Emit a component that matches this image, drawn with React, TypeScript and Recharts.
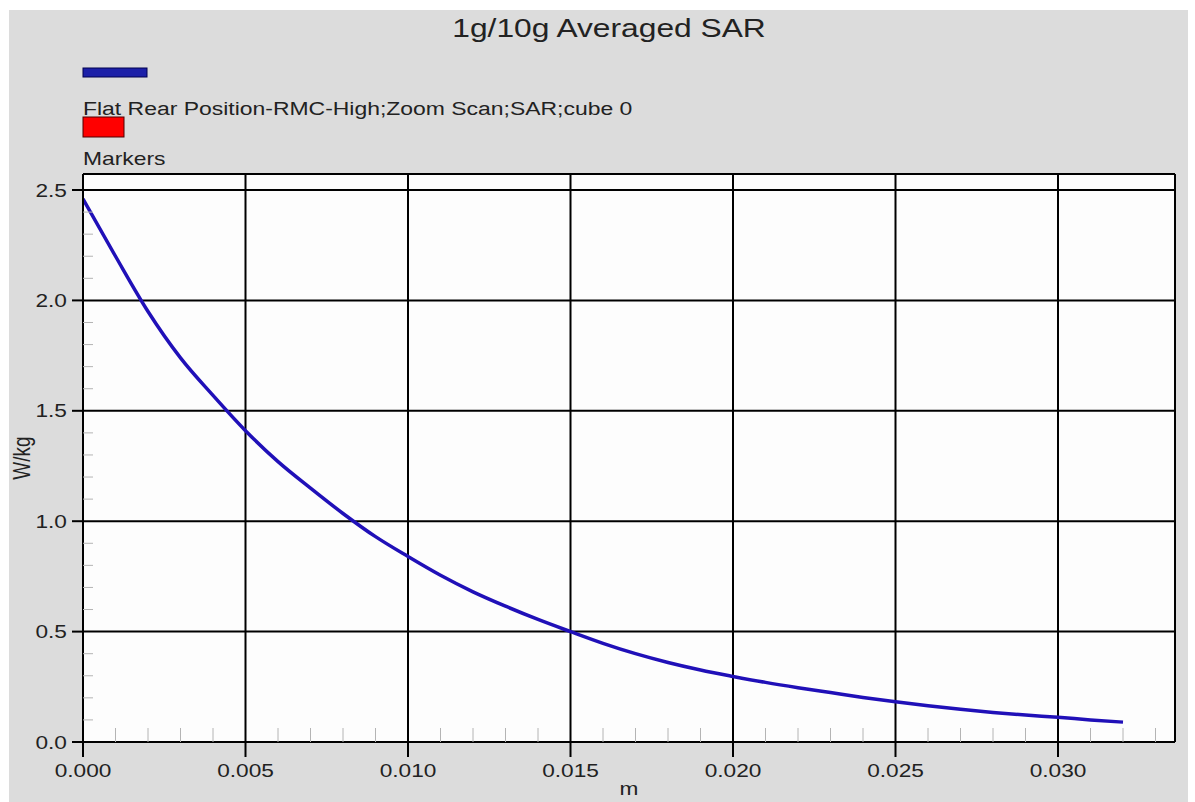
import React from 'react'
import {
  CartesianGrid,
  Line,
  LineChart,
  ReferenceLine,
  XAxis,
  YAxis
} from 'recharts'

// distance from the surface, in metres (1 mm steps)
const X_M = [
  0, 0.001, 0.002, 0.003, 0.004, 0.005, 0.006, 0.007, 0.008, 0.009, 0.01,
  0.011, 0.012, 0.013, 0.014, 0.015, 0.016, 0.017, 0.018, 0.019, 0.02, 0.021,
  0.022, 0.023, 0.024, 0.025, 0.026, 0.027, 0.028, 0.029, 0.03, 0.031, 0.032
]

// averaged SAR, W/kg
const SAR = [
  2.46, 2.2, 1.95, 1.74, 1.57, 1.41, 1.27, 1.15, 1.035, 0.93, 0.84, 0.755,
  0.68, 0.615, 0.555, 0.5, 0.447, 0.4, 0.36, 0.326, 0.297, 0.27, 0.246, 0.224,
  0.202, 0.182, 0.164, 0.148, 0.134, 0.122, 0.112, 0.1, 0.09
]

const X_MAX = 0.0336
const Y_MAX = 2.5725
const X_MAJOR = [0.005, 0.01, 0.015, 0.02, 0.025, 0.03]
const Y_MAJOR = [0.5, 1.0, 1.5, 2.0, 2.5]
const X_TICKS = Array.from({length: 34}, (_, i) => i / 1000)
const Y_TICKS = Array.from({length: 26}, (_, i) => i / 10)

const SERIES_NAME = 'Flat Rear Position-RMC-High;Zoom Scan;SAR;cube 0'
const MARKERS_NAME = 'Markers'
const TITLE = '1g/10g Averaged SAR'

const data = X_M.map((x, i) => ({x, sar: SAR[i]}))

const FONT = '"Liberation Sans", Arial, sans-serif'
const TEXT = '#222'
const SX = 1.26 // the source image is stretched sideways

const XTick = (props: any) => {
  const {x, y, payload} = props
  const v = payload.value as number
  const major = Math.round(v * 1000) % 5 === 0
  if (!major) {
    return <line x1={x} x2={x} y1={y} y2={y - 14} stroke='#b4b4b4' />
  }
  return (
    <g>
      <line x1={x} x2={x} y1={y} y2={y + 15} stroke='#000' strokeWidth={2} />
      <text
        transform={`translate(${x},${y + 35}) scale(${SX},1)`}
        textAnchor='middle'
        fontSize={18}
        fontFamily={FONT}
        fill={TEXT}
      >
        {v.toFixed(3)}
      </text>
    </g>
  )
}

const YTick = (props: any) => {
  const {x, y, payload} = props
  const v = payload.value as number
  const major = Math.abs(v * 2 - Math.round(v * 2)) < 1e-6
  if (!major) {
    return <line x1={x} x2={x + 10} y1={y} y2={y} stroke='#b4b4b4' />
  }
  return (
    <g>
      <line x1={x - 11} x2={x} y1={y} y2={y} stroke='#000' strokeWidth={2} />
      <text
        transform={`translate(${x - 16},${y + 6.5}) scale(${SX},1)`}
        textAnchor='end'
        fontSize={18}
        fontFamily={FONT}
        fill={TEXT}
      >
        {v.toFixed(1)}
      </text>
    </g>
  )
}

const XTitle = (props: any) => {
  const {x, y, width} = props.viewBox
  return (
    <text
      transform={`translate(${x + width / 2},${y + 53}) scale(${SX},1)`}
      textAnchor='middle'
      fontSize={18}
      fontFamily={FONT}
      fill={TEXT}
    >
      m
    </text>
  )
}

const YTitle = (props: any) => {
  const {y, height} = props.viewBox
  return (
    <text
      transform={`translate(21,${y + height / 2}) scale(${SX},1) rotate(-90)`}
      textAnchor='middle'
      fontSize={19}
      fontFamily={FONT}
      fill={TEXT}
    >
      W/kg
    </text>
  )
}

const Header = () => (
  <svg
    width={1179}
    height={164}
    style={{position: 'absolute', left: 0, top: 0, pointerEvents: 'none'}}
  >
    <text
      transform={`translate(600,27) scale(1.27,1)`}
      textAnchor='middle'
      fontSize={25}
      fontFamily={FONT}
      fill={TEXT}
    >
      {TITLE}
    </text>
    <rect x={74} y={58} width={64} height={9} fill='#1c20a8' stroke='#000050' />
    <text
      transform={`translate(74,105) scale(1.275,1)`}
      fontSize={18}
      fontFamily={FONT}
      fill={TEXT}
    >
      {SERIES_NAME}
    </text>
    <rect x={74} y={107} width={41} height={20} fill='#ff0000' stroke='#500000' />
    <text
      transform={`translate(74,155) scale(1.27,1)`}
      fontSize={18}
      fontFamily={FONT}
      fill={TEXT}
    >
      {MARKERS_NAME}
    </text>
  </svg>
)

const App = () => {
  return (
    <div
      style={{
        position: 'absolute',
        left: 9,
        top: 10,
        width: 1179,
        height: 792,
        background: '#dcdcdc',
        overflow: 'hidden'
      }}
    >
      <LineChart
        width={1179}
        height={792}
        data={data}
        margin={{top: 164, right: 13, bottom: 0, left: 0}}
      >
        <CartesianGrid horizontal={false} vertical={false} fill='#fdfdfd' stroke='none' />
        <XAxis
          dataKey='x'
          type='number'
          domain={[0, X_MAX]}
          ticks={X_TICKS}
          interval={0}
          height={60}
          tickLine={false}
          tickSize={0}
          tickMargin={0}
          axisLine={{stroke: '#000', strokeWidth: 2}}
          tick={<XTick />}
          label={<XTitle />}
          allowDataOverflow
        />
        <YAxis
          type='number'
          domain={[0, Y_MAX]}
          ticks={Y_TICKS}
          interval={0}
          width={74}
          tickLine={false}
          tickSize={0}
          tickMargin={0}
          axisLine={{stroke: '#000', strokeWidth: 2}}
          tick={<YTick />}
          label={<YTitle />}
          allowDataOverflow
        />
        {Y_MAJOR.map((v) => (
          <ReferenceLine key={'y' + v} y={v} stroke='#000' strokeWidth={2} />
        ))}
        {X_MAJOR.map((v) => (
          <ReferenceLine key={'x' + v} x={v} stroke='#000' strokeWidth={2} />
        ))}
        <ReferenceLine y={Y_MAX} stroke='#000' strokeWidth={2} />
        <ReferenceLine x={X_MAX} stroke='#000' strokeWidth={2} />
        <Line
          type='monotone'
          dataKey='sar'
          name={SERIES_NAME}
          stroke='#2010b8'
          strokeWidth={3.5}
          dot={false}
          isAnimationActive={false}
        />
      </LineChart>
      <Header />
    </div>
  )
}

export default App
